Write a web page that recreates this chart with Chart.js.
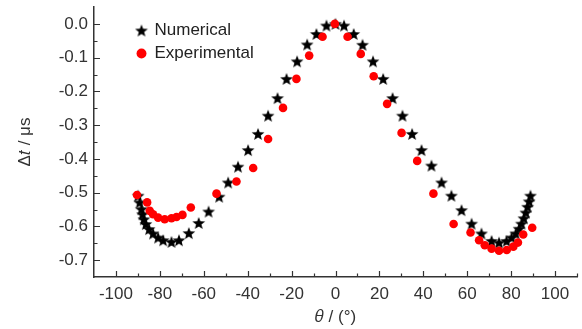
<!DOCTYPE html>
<html>
<head>
<meta charset="utf-8">
<script src="https://cdn.jsdelivr.net/npm/chart.js@4.4.1/dist/chart.umd.min.js"></script>
<style>
  html, body { margin: 0; padding: 0; background: #fff; }
  #wrap { width: 582px; height: 329px; }
</style>
</head>
<body>
<div id="wrap"><canvas id="chart"></canvas></div>
<script>
// theta (deg) and delta t (us)
const numAngle = [-89.9, -89.2, -88.4, -87.9, -87.3, -86.4, -84.9, -83.1, -80.8, -78.5, -74.7, -71.3, -66.8, -62.3, -57.8, -53.0, -48.9, -44.4, -39.8, -35.3, -30.7, -26.4, -22.3, -17.5, -12.9, -8.7, -4.1, 0, 3.9, 8.3, 12.3, 17.1, 21.7, 26.0, 30.5, 34.9, 39.2, 43.7, 48.3, 52.8, 57.4, 62.0, 66.5, 71.1, 74.5, 77.9, 80.2, 82.1, 83.6, 84.7, 85.8, 86.7, 87.5, 88.2, 88.8]
const numDelay = [-0.509, -0.529, -0.549, -0.564, -0.579, -0.593, -0.608, -0.621, -0.633, -0.641, -0.646, -0.641, -0.620, -0.590, -0.556, -0.512, -0.470, -0.423, -0.374, -0.326, -0.272, -0.220, -0.163, -0.111, -0.061, -0.030, -0.005, 0.0, -0.005, -0.030, -0.062, -0.111, -0.163, -0.220, -0.272, -0.326, -0.374, -0.420, -0.470, -0.509, -0.552, -0.592, -0.621, -0.643, -0.648, -0.643, -0.633, -0.621, -0.607, -0.592, -0.576, -0.559, -0.542, -0.526, -0.509]

const expAngle = [-90.4, -85.8, -84.6, -83.1, -80.8, -77.8, -74.7, -72.4, -69.7, -65.9, -54.2, -45.1, -37.5, -30.7, -23.9, -17.8, -12.0, -5.9, -0.3, 5.5, 11.5, 17.4, 23.5, 30.1, 37.2, 44.6, 53.8, 61.5, 65.4, 68.0, 71.1, 74.5, 78.0, 81.0, 83.1, 85.5, 89.6]
const expDelay = [-0.507, -0.529, -0.554, -0.564, -0.574, -0.579, -0.576, -0.572, -0.566, -0.544, -0.503, -0.467, -0.427, -0.341, -0.249, -0.163, -0.094, -0.038, 0.0, -0.038, -0.089, -0.155, -0.237, -0.323, -0.406, -0.503, -0.593, -0.618, -0.641, -0.656, -0.666, -0.672, -0.670, -0.660, -0.648, -0.624, -0.604]

const xTicks = [-100, -80, -60, -40, -20, 0, 20, 40, 60, 80, 100]
const yTicks = [0, -0.1, -0.2, -0.3, -0.4, -0.5, -0.6, -0.7]

const FONT = "'Liberation Sans', Arial, 'DejaVu Sans', sans-serif"
const INK = '#333333'

// filled five point star used as point style
function makeStar(size, color) {
    const c = document.createElement('canvas')
    c.width = size
    c.height = size
    const g = c.getContext('2d')
    const R = size / 2 - 0.3, r = R * 0.42, cx = size / 2, cy = size / 2 + 0.6
    g.beginPath()
    for (let i = 0; i < 10; i++) {
        const rad = i % 2 === 0 ? R : r
        const a = -Math.PI / 2 + i * Math.PI / 5
        const px = cx + rad * Math.cos(a), py = cy + rad * Math.sin(a)
        if (i === 0) g.moveTo(px, py)
        else g.lineTo(px, py)
    }
    g.closePath()
    g.fillStyle = color
    g.fill()
    return c
}
const star = makeStar(14, '#000')

// ticks drawn inward, major plus minor halfway between
const innerTicks = {
    id: 'innerTicks',
    afterDraw(chart) {
        const { ctx, chartArea: a, scales: { x, y } } = chart
        ctx.save()
        ctx.strokeStyle = INK
        ctx.lineWidth = 1.2
        ctx.beginPath()
        const xStep = xTicks[1] - xTicks[0]
        xTicks.forEach(v => {
            const p = Math.round(x.getPixelForValue(v)) + 0.5
            ctx.moveTo(p, a.bottom); ctx.lineTo(p, a.bottom - 6)
        })
        xTicks.concat([xTicks[xTicks.length - 1] + xStep]).forEach(v => {
            const m = v - xStep / 2
            if (m <= x.min || m > x.max) return
            const p = Math.round(x.getPixelForValue(m)) + 0.5
            ctx.moveTo(p, a.bottom); ctx.lineTo(p, a.bottom - 3.5)
        })
        const yStep = yTicks[0] - yTicks[1]
        yTicks.forEach(v => {
            const p = Math.round(y.getPixelForValue(v)) + 0.5
            ctx.moveTo(a.left, p); ctx.lineTo(a.left + 6, p)
            const m = v - yStep / 2
            if (m > y.min) {
                const q = Math.round(y.getPixelForValue(m)) + 0.5
                ctx.moveTo(a.left, q); ctx.lineTo(a.left + 3.5, q)
            }
        })
        ctx.stroke()
        ctx.restore()
    }
}

// put the legend in the upper left corner of the plot
const legendSpot = {
    id: 'legendSpot',
    afterLayout(chart) {
        const lg = chart.legend
        lg.left = chart.chartArea.left + 37
        lg.top = 16
    }
}

new Chart(document.getElementById('chart'), {
    type: 'scatter',
    data: {
        datasets: [{
            label: 'Numerical',
            data: numAngle.map((v, i) => ({ x: v, y: numDelay[i] })),
            pointStyle: star,
            backgroundColor: '#000',
            borderColor: '#000',
            order: 2
        }, {
            label: 'Experimental',
            data: expAngle.map((v, i) => ({ x: v, y: expDelay[i] })),
            pointStyle: 'circle',
            pointRadius: 4.3,
            borderWidth: 0,
            backgroundColor: '#ff0000',
            borderColor: '#ff0000',
            order: 1
        }]
    },
    options: {
        responsive: true,
        maintainAspectRatio: false,
        animation: false,
        layout: { padding: { top: 7, right: 5, left: 0, bottom: 0 } },
        plugins: {
            tooltip: { enabled: false },
            legend: {
                position: 'chartArea',
                align: 'start',
                labels: {
                    usePointStyle: true,
                    boxWidth: 9,
                    boxHeight: 7,
                    padding: 6,
                    color: '#222',
                    font: { family: FONT, size: 17 },
                    sort: (a, b) => a.datasetIndex - b.datasetIndex
                }
            }
        },
        scales: {
            x: {
                type: 'linear',
                min: -110,
                max: 110,
                afterBuildTicks: s => { s.ticks = xTicks.map(v => ({ value: v })) },
                afterFit: s => { s.height = 52 },
                grid: { display: false, drawTicks: false },
                border: { display: true, color: INK, width: 1.5 },
                ticks: {
                    color: INK,
                    padding: 7,
                    maxRotation: 0,
                    font: { family: FONT, size: 17 }
                },
                title: {
                    display: true,
                    text: '𝜃 / (°)',
                    color: INK,
                    padding: { top: 1, bottom: 1 },
                    font: { family: FONT, size: 17 }
                }
            },
            y: {
                type: 'linear',
                min: -0.75,
                max: 0.05,
                afterBuildTicks: s => { s.ticks = yTicks.map(v => ({ value: v })) },
                afterFit: s => {
                    s.width = 94
                    s.paddingTop = 0
                    s.paddingBottom = 0
                },
                grid: { display: false, drawTicks: false },
                border: { display: true, color: INK, width: 1.5 },
                ticks: {
                    color: INK,
                    padding: 6,
                    font: { family: FONT, size: 17 },
                    callback: v => v.toFixed(1)
                },
                title: {
                    display: true,
                    text: 'Δ𝑡 / μs',
                    color: INK,
                    padding: { top: 15, bottom: 0 },
                    font: { family: FONT, size: 17 }
                }
            }
        }
    },
    plugins: [innerTicks, legendSpot]
});
</script>
</body>
</html>
